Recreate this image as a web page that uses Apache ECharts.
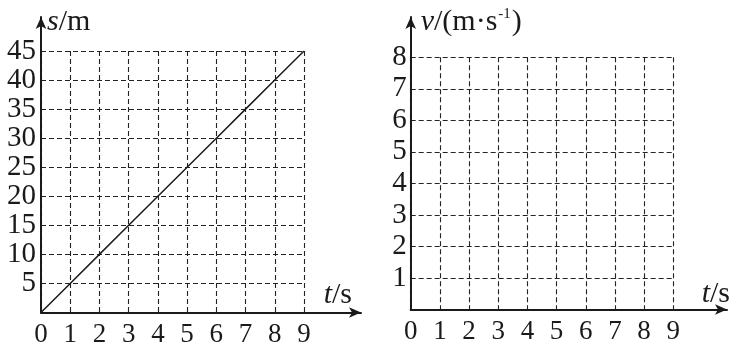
<!DOCTYPE html>
<html>
<head>
<meta charset="utf-8">
<script src="https://cdn.jsdelivr.net/npm/echarts@6/dist/echarts.min.js"></script>
<style>
html,body{margin:0;padding:0;background:#fff;}
#chart{width:740px;height:342px;}
</style>
</head>
<body>
<div id="chart"></div>
<script>
// ---- data ----
const tTicks = ['0','1','2','3','4','5','6','7','8','9'];
const sTicks = ['0','5','10','15','20','25','30','35','40','45'];
const vTicks = ['0','1','2','3','4','5','6','7','8'];
const tPoints = [0, 1, 2, 3, 4, 5, 6, 7, 8, 9];
const sValues = [0, 5, 10, 15, 20, 25, 30, 35, 40, 45];

// ---- layout (pixels) ----
const FONT = '"Liberation Serif", "Times New Roman", serif';
const INK = '#1a1a1a';
const L = {x0: 41, x9: 304, y0: 312.5, yTop: 51, axEndX: 361, axEndY: 17};
const R = {x0: 410.7, x9: 673.3, y0: 309.5, yTop: 57.3, axEndX: 727, axEndY: 17};

const tMax = Number(tTicks[tTicks.length - 1]);
const sMax = Number(sTicks[sTicks.length - 1]);
const vMax = Number(vTicks[vTicks.length - 1]);

function gridA(p){ return {left: p.x0, top: p.yTop, width: p.x9 - p.x0, height: p.y0 - p.yTop, containLabel: false, outerBoundsMode: 'none'}; }
function gridB(p){ return {left: p.x0, top: p.axEndY, width: p.axEndX - p.x0, height: p.y0 - p.axEndY, containLabel: false, outerBoundsMode: 'none'}; }

const dashed = {show: true, lineStyle: {color: '#222', width: 1.1, type: [5, 3]}};

function gridAxisX(gi){
  return {type: 'value', gridIndex: gi, min: 0, max: tMax, interval: 1,
    axisLine: {show: false}, axisTick: {show: false},
    axisLabel: {show: true, margin: 9, color: INK, fontFamily: FONT, fontSize: 27,
      showMinLabel: true, showMaxLabel: true, hideOverlap: false,
      formatter: v => tTicks[v] !== undefined ? tTicks[v] : ''},
    splitLine: dashed};
}
function gridAxisY(gi, max, step, ticks, size, margin){
  return {type: 'value', gridIndex: gi, min: 0, max: max, interval: step,
    axisLine: {show: false}, axisTick: {show: false},
    axisLabel: {show: true, margin: margin, color: INK, fontFamily: FONT, fontSize: size,
      showMinLabel: true, showMaxLabel: true, hideOverlap: false,
      formatter: v => v === 0 ? '' : (ticks[Math.round(v / step)] || '')},
    splitLine: dashed};
}
const axLine = {show: true, symbol: ['none', 'arrow'], symbolSize: [8, 12], lineStyle: {color: INK, width: 2}};
function arrowAxisX(gi, p, name, gap, padB){
  const pxPerUnit = (p.x9 - p.x0) / tMax;
  return {type: 'value', gridIndex: gi, min: 0, max: (p.axEndX - p.x0) / pxPerUnit,
    axisLine: axLine, axisTick: {show: false}, axisLabel: {show: false}, splitLine: {show: false},
    name: name, nameLocation: 'end', nameGap: gap,
    nameTextStyle: {color: INK, fontFamily: FONT, fontSize: 30, align: 'right', verticalAlign: 'middle',
      padding: [0, 0, padB, 0],
      rich: {i: {fontStyle: 'italic', fontFamily: FONT, fontSize: 30, color: INK}}}};
}
function arrowAxisY(gi, p, vmax, name, gap, padL){
  const pxPerUnit = (p.y0 - p.yTop) / vmax;
  return {type: 'value', gridIndex: gi, min: 0, max: (p.y0 - p.axEndY) / pxPerUnit,
    axisLine: axLine, axisTick: {show: false}, axisLabel: {show: false}, splitLine: {show: false},
    name: name, nameLocation: 'end', nameGap: gap,
    nameTextStyle: {color: INK, fontFamily: FONT, fontSize: 30, align: 'left', verticalAlign: 'middle',
      padding: [0, 0, 0, padL],
      rich: {i: {fontStyle: 'italic', fontFamily: FONT, fontSize: 30, color: INK},
             sup: {fontFamily: FONT, fontSize: 15, color: INK, verticalAlign: 'top', padding: [0, 1, 14, 1]}}}};
}

const chart = echarts.init(document.getElementById('chart'), null, {renderer: 'canvas'});
chart.setOption({
  backgroundColor: '#fff',
  animation: false,
  grid: [gridA(L), gridB(L), gridA(R), gridB(R)],
  xAxis: [
    gridAxisX(0),
    arrowAxisX(1, L, '{i|t}/s', -9, 34),
    gridAxisX(2),
    arrowAxisX(3, R, '{i|t}/s', 3, 30)
  ],
  yAxis: [
    gridAxisY(0, sMax, 5, sTicks, 29, 5),
    arrowAxisY(1, L, sMax, '{i|s}/m', -5, 6),
    gridAxisY(2, vMax, 1, vTicks, 29, 4),
    arrowAxisY(3, R, vMax, '{i|v}/(m·s{sup|-1})', -5, 10)
  ],
  series: [{
    type: 'line', xAxisIndex: 0, yAxisIndex: 0,
    data: tPoints.map((t, i) => [t, sValues[i]]),
    showSymbol: false, symbol: 'none',
    lineStyle: {color: INK, width: 1.5}
  }]
});
</script>
</body>
</html>
